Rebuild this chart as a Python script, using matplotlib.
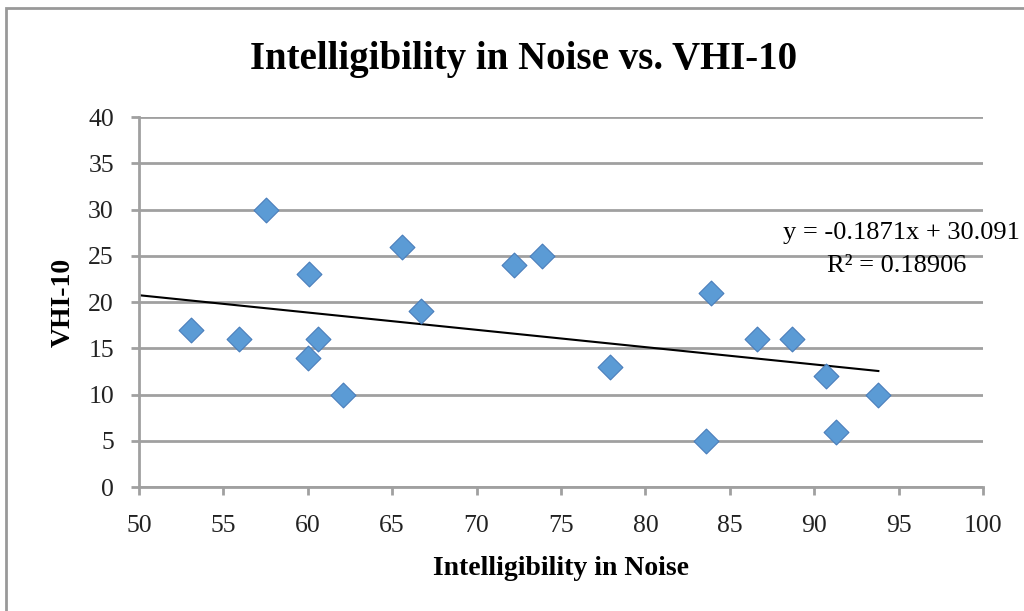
import matplotlib.pyplot as plt
import numpy as np
from matplotlib.patches import Rectangle

# intelligibility in noise (x) and VHI-10 score (y)
intelligibility = [53.1, 55.9, 57.5, 60.1, 60.0, 60.6, 62.1, 65.6, 66.7, 72.2,
                   73.9, 77.9, 83.6, 83.9, 86.6, 88.7, 90.7, 91.3, 93.8]
vhi10 = [17, 16, 30, 23, 14, 16, 10, 26, 19, 24,
         25, 13, 5, 21, 16, 16, 12, 6, 10]

# linear trendline as reported on the chart
slope = -0.1871
intercept = 30.091
r_squared = 0.18906

plt.rcParams['font.family'] = ['Liberation Serif', 'DejaVu Serif']

fig = plt.figure(figsize=(10.24, 6.11), dpi=100)
ax = fig.add_axes([0.1357, 0.2029, 0.8243, 0.6056])

# outer chart frame
fig.patches.append(Rectangle((6 / 1024, -0.1), 1.2, 1 - 8 / 611 + 0.1,
                             transform=fig.transFigure, fill=False,
                             edgecolor='#999999', linewidth=2))

ax.scatter(intelligibility, vhi10, marker='D', s=160, color='#5b9bd5',
           edgecolors='#4a7ebb', linewidths=0.8, zorder=3)

x_line = np.array([50, max(intelligibility)])
ax.plot(x_line, slope * x_line + intercept, color='black', linewidth=1.5, zorder=2)

ax.set_xlim(50, 100)
ax.set_ylim(0, 40)
ax.set_xticks(range(50, 101, 5))
ax.set_yticks(range(0, 41, 5))
ax.yaxis.grid(True, color='#a0a0a0', linewidth=2)
ax.set_axisbelow(True)
for side in ['top', 'right']:
    ax.spines[side].set_visible(False)
for side in ['left', 'bottom']:
    ax.spines[side].set_color('#a0a0a0')
    ax.spines[side].set_linewidth(2)
ax.tick_params(axis='both', colors='#a0a0a0', width=2, length=6, labelsize=18.5,
               labelcolor='#222222')
ax.tick_params(axis='x', pad=14)
ax.tick_params(axis='y', pad=12)

ax.set_xlabel('Intelligibility in Noise', fontsize=20, fontweight='bold', labelpad=14)
ax.set_ylabel('VHI-10', fontsize=20, fontweight='bold', labelpad=9)
fig.text(0.511, 0.902, 'Intelligibility in Noise vs. VHI-10', fontsize=28,
         fontweight='bold', ha='center', va='center')

fig.text(0.996, 0.619, 'y = -0.1871x + 30.091', fontsize=19, ha='right', va='center')
fig.text(0.876, 0.564, f'R² = {r_squared}', fontsize=19, ha='center', va='center')

plt.savefig('out.png', dpi=100)
